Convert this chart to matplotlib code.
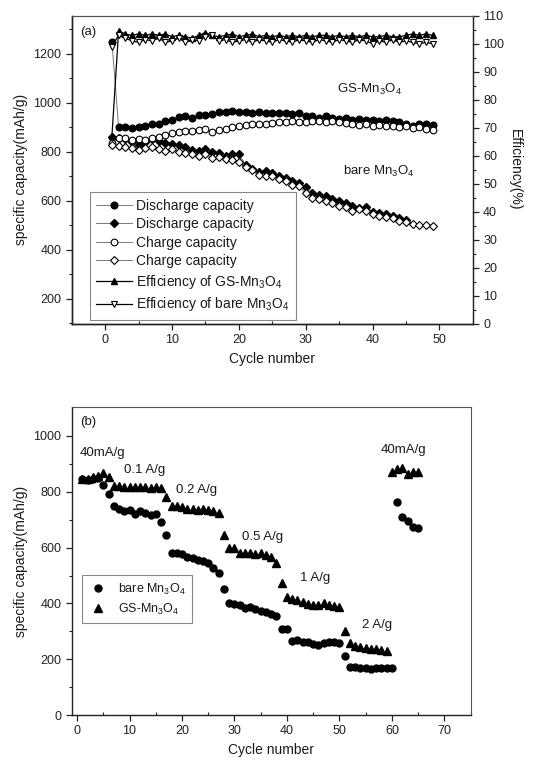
import numpy as np
import matplotlib
matplotlib.use('Agg')
import matplotlib.pyplot as plt
from matplotlib.ticker import MultipleLocator
from matplotlib.lines import Line2D

plt.rcParams['font.family'] = ['Liberation Sans', 'DejaVu Sans']
plt.rcParams['mathtext.default'] = 'regular'
plt.rcParams['text.color'] = '#1a1a1a'
plt.rcParams['axes.labelcolor'] = '#1a1a1a'
plt.rcParams['xtick.color'] = '#222222'
plt.rcParams['ytick.color'] = '#222222'

#%% data, panel (a): cycling at 40 mA/g
cyc_a = np.arange(1, 50)
gs_dis = [1250, 903, 900, 897, 900, 905, 915, 912, 925, 930, 942, 945, 940, 950, 952,
          955, 962, 963, 965, 962, 962, 960, 961, 960, 958, 960, 960, 955, 958, 945,
          948, 940, 945, 940, 935, 938, 932, 935, 930, 932, 928, 930, 925, 920, 915,
          905, 915, 912, 910]
gs_chg = [835, 855, 858, 850, 852, 848, 858, 860, 870, 876, 880, 885, 885, 890, 892,
          880, 888, 895, 900, 905, 908, 912, 915, 912, 918, 922, 922, 925, 920, 922,
          925, 925, 920, 925, 920, 918, 915, 910, 912, 905, 908, 905, 905, 900, 905,
          898, 900, 895, 890]
bare_dis = [862, 856, 851, 841, 830, 840, 851, 845, 838, 832, 826, 820, 808, 805, 812,
            800, 795, 785, 790, 792, 747, 732, 718, 723, 715, 700, 695, 679, 672, 658,
            634, 624, 618, 607, 601, 593, 577, 570, 574, 556, 549, 545, 539, 529, 522]
bare_chg = [830, 822, 818, 816, 808, 815, 820, 812, 805, 810, 800, 795, 790, 785, 790,
            775, 780, 770, 765, 760, 740, 725, 705, 700, 700, 690, 680, 665, 660, 630,
            612, 608, 600, 590, 580, 575, 560, 565, 560, 545, 540, 535, 530, 518, 515,
            505, 502, 500, 498]
gs_eff = [67, 104.5, 103.5, 103, 103.5, 103, 103.5, 103, 103.5, 102.5, 103, 102.5, 102, 103,
          104, 103, 102.5, 103, 103.5, 102.5, 103, 103.5, 102.5, 103, 102.5, 103, 102.5,
          103, 102.5, 103, 102.5, 103, 103, 102.5, 103, 102.5, 103, 102.5, 103, 102.5,
          102.5, 103, 102.5, 102.5, 103, 103.5, 103, 103.5, 103]
bare_eff = [99, 103, 102, 101, 100.5, 101.5, 101, 102, 100.5, 101, 102, 100.5, 101.5, 101,
            102.5, 103, 101, 101.5, 100.5, 101, 101.5, 100.5, 101.5, 101, 100.5, 101.5,
            101, 100.5, 101.5, 101, 100.5, 101.5, 101, 100.5, 101.5, 101, 100.5, 101.5,
            101, 100, 101, 100.5, 101.5, 100.5, 101, 100.5, 100, 100.5, 100]

#%% data, panel (b): rate capability
cyc_bare = np.arange(1, 66)
bare_rate = [845, 842, 845, 848, 825, 793, 749, 737, 732, 735, 719, 731, 723, 716, 720,
             690, 645, 582, 580, 576, 568, 562, 554, 551, 545, 527, 508, 452, 402, 398,
             396, 382, 386, 380, 372, 368, 362, 356, 310, 309, 265, 270, 263, 262, 255,
             250, 258, 260, 262, 258, 211, 173, 172, 170, 168, 166, 167, 170, 168, 170,
             762, 710, 697, 675, 670]
cyc_gs = np.arange(1, 66)
gs_rate = [845, 845, 852, 857, 866, 852, 821, 820, 818, 818, 817, 818, 816, 815, 816,
           815, 782, 749, 748, 745, 740, 737, 735, 737, 735, 730, 723, 645, 597, 597,
           580, 580, 582, 578, 580, 575, 568, 546, 472, 424, 416, 412, 405, 398, 395,
           395, 400, 395, 390, 388, 301, 259, 247, 243, 240, 237, 235, 233, 229, 872,
           880, 884, 865, 872, 870]

#%% figure
fig = plt.figure(figsize=(5.36, 7.6), dpi=100)
lw_frame = 1.0
ms = 4.8
tick_fs = 9
lab_fs = 10
note_fs = 9.5

def style_axes(ax):
    for s in ['left', 'bottom']:
        ax.spines[s].set_linewidth(lw_frame)
        ax.spines[s].set_color('#222222')
    for s in ['top', 'right']:
        ax.spines[s].set_linewidth(0.8)
        ax.spines[s].set_color('#555555')
    ax.tick_params(axis='y', which='major', direction='out', length=4, width=0.9, labelsize=tick_fs)
    ax.tick_params(axis='y', which='minor', direction='out', length=2, width=0.8)
    ax.tick_params(axis='x', which='major', direction='out', length=4, width=0.9, labelsize=tick_fs)
    ax.tick_params(axis='x', which='minor', direction='in', length=2.5, width=0.8)

# ---- panel (a)
ax1 = fig.add_axes([0.134, 0.5737, 0.748, 0.4056])
ax2 = ax1.twinx()
gray = '#777777'
ax1.plot(cyc_a, gs_dis, '-', color=gray, lw=0.7, marker='o', ms=ms, mfc='k', mec='k', zorder=3)
ax1.plot(cyc_a[:len(bare_dis)], bare_dis, '-', color=gray, lw=0.7, marker='D', ms=ms-0.4,
         mfc='k', mec='k', zorder=3)
ax1.plot(cyc_a, gs_chg, '-', color=gray, lw=0.7, marker='o', ms=ms, mfc='white', mec='k',
         mew=0.8, zorder=4)
ax1.plot(cyc_a, bare_chg, '-', color=gray, lw=0.7, marker='D', ms=ms-0.4, mfc='white', mec='k',
         mew=0.8, zorder=4)
ax2.plot(cyc_a, gs_eff, '-', color='k', lw=0.9, marker='^', ms=ms, mfc='k', mec='k', zorder=3)
ax2.plot(cyc_a, bare_eff, '-', color='k', lw=0.9, marker='v', ms=ms, mfc='white', mec='k',
         mew=0.8, zorder=3)

ax1.set_xlim(-5, 55)
ax1.set_ylim(97, 1356)
ax2.set_ylim(0, 110)
ax1.xaxis.set_major_locator(MultipleLocator(10))
ax1.xaxis.set_minor_locator(MultipleLocator(5))
ax2.yaxis.set_major_locator(MultipleLocator(10))
ax2.yaxis.set_minor_locator(MultipleLocator(5))
style_axes(ax1)
style_axes(ax2)
ax1.set_yticks([200, 400, 600, 800, 1000, 1200])
ax1.set_yticks(np.arange(100, 1351, 100), minor=True)
ax2.spines['right'].set_linewidth(lw_frame)
ax2.spines['right'].set_color('#222222')
ax1.tick_params(top=False, right=False, which='both')

ax1.set_xlabel('Cycle number', fontsize=lab_fs, labelpad=4)
ax1.set_ylabel('specific capacity(mAh/g)', fontsize=lab_fs, labelpad=4)
ax2.set_ylabel('Efficiency(%)', fontsize=lab_fs, rotation=270, labelpad=13)

ax1.text(0.02, 0.948, '(a)', transform=ax1.transAxes, fontsize=note_fs, va='center')
ax1.text(0.661, 0.76, 'GS-Mn$_3$O$_4$', transform=ax1.transAxes, fontsize=note_fs, va='center')
ax1.text(0.676, 0.494, 'bare Mn$_3$O$_4$', transform=ax1.transAxes, fontsize=note_fs, va='center')

handles = [
    Line2D([], [], color=gray, lw=0.7, marker='o', ms=ms, mfc='k', mec='k'),
    Line2D([], [], color=gray, lw=0.7, marker='D', ms=ms-0.4, mfc='k', mec='k'),
    Line2D([], [], color=gray, lw=0.7, marker='o', ms=ms, mfc='white', mec='k', mew=0.8),
    Line2D([], [], color=gray, lw=0.7, marker='D', ms=ms-0.4, mfc='white', mec='k', mew=0.8),
    Line2D([], [], color='k', lw=0.9, marker='^', ms=ms, mfc='k', mec='k'),
    Line2D([], [], color='k', lw=0.9, marker='v', ms=ms, mfc='white', mec='k', mew=0.8),
]
labels = ['Discharge capacity', 'Discharge capacity', 'Charge capacity', 'Charge capacity',
          'Efficiency of GS-Mn$_3$O$_4$', 'Efficiency of bare Mn$_3$O$_4$']
leg = ax2.legend(handles, labels, loc='lower left', bbox_to_anchor=(0.045, 0.014),
                 borderaxespad=0, fontsize=10, handlelength=2.6, handletextpad=0.3,
                 labelspacing=0.33, fancybox=False, framealpha=1, borderpad=0.45)
leg.get_frame().set_edgecolor('#888888')
leg.get_frame().set_linewidth(0.8)

# ---- panel (b)
ax3 = fig.add_axes([0.134, 0.0592, 0.744, 0.4053])
ax3.plot(cyc_bare, bare_rate, 'o', ms=5, color='k', label='bare Mn$_3$O$_4$', zorder=3)
ax3.plot(cyc_gs, gs_rate, '^', ms=5.2, color='k', label='GS-Mn$_3$O$_4$', zorder=3)
ax3.set_xlim(-1, 75)
ax3.set_ylim(0, 1104)
ax3.xaxis.set_major_locator(MultipleLocator(10))
ax3.xaxis.set_minor_locator(MultipleLocator(5))
ax3.set_yticks([0, 200, 400, 600, 800, 1000])
ax3.set_yticks(np.arange(100, 1001, 200), minor=True)
style_axes(ax3)
ax3.tick_params(top=False, right=False, which='both')
ax3.set_xlabel('Cycle number', fontsize=lab_fs, labelpad=4)
ax3.set_ylabel('specific capacity(mAh/g)', fontsize=lab_fs, labelpad=4)

ax3.text(0.02, 0.951, '(b)', transform=ax3.transAxes, fontsize=note_fs, va='center')
ax3.text(0.02, 0.851, '40mA/g', transform=ax3.transAxes, fontsize=note_fs, va='center')
ax3.text(0.13, 0.795, '0.1 A/g', transform=ax3.transAxes, fontsize=note_fs, va='center')
ax3.text(0.261, 0.73, '0.2 A/g', transform=ax3.transAxes, fontsize=note_fs, va='center')
ax3.text(0.426, 0.578, '0.5 A/g', transform=ax3.transAxes, fontsize=note_fs, va='center')
ax3.text(0.571, 0.445, '1 A/g', transform=ax3.transAxes, fontsize=note_fs, va='center')
ax3.text(0.727, 0.292, '2 A/g', transform=ax3.transAxes, fontsize=note_fs, va='center')
ax3.text(0.774, 0.86, '40mA/g', transform=ax3.transAxes, fontsize=note_fs, va='center')

leg2 = ax3.legend(loc='lower left', bbox_to_anchor=(0.025, 0.299), borderaxespad=0,
                  fontsize=9, handlelength=1.6, handletextpad=0.8, labelspacing=0.4,
                  fancybox=False, framealpha=1, borderpad=0.5)
leg2.get_frame().set_edgecolor('#888888')
leg2.get_frame().set_linewidth(0.8)

plt.savefig('out.png', dpi=100)
